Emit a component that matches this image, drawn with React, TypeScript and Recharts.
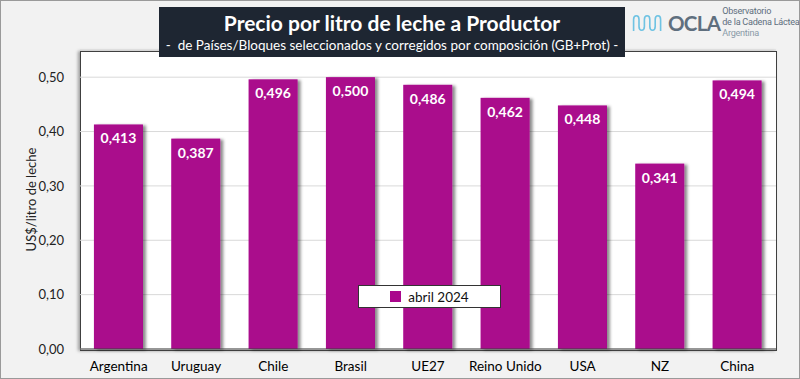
import React from 'react'
import {
  BarChart,
  Bar,
  XAxis,
  YAxis,
  CartesianGrid,
  LabelList,
} from 'recharts'

const paises = ['Argentina', 'Uruguay', 'Chile', 'Brasil', 'UE27', 'Reino Unido', 'USA', 'NZ', 'China']
const precios = [0.413, 0.387, 0.496, 0.5, 0.486, 0.462, 0.448, 0.341, 0.494]
const yTicks = [0, 0.1, 0.2, 0.3, 0.4, 0.5]
const serieNombre = 'abril 2024'

const BAR_COLOR = '#AA078C'
const FONT = 'Lato, "Open Sans", sans-serif'

const data = paises.map((p, i) => ({ pais: p, precio: precios[i] }))

const fmt = (v: number, d: number) => v.toFixed(d).replace('.', ',')

const ShadowBar = (props: any) => {
  const { x, y, width, height } = props
  if (!height || height <= 0) return null
  return (
    <rect
      x={x}
      y={y}
      width={width}
      height={height}
      fill={BAR_COLOR}
      filter="url(#barShadow)"
    />
  )
}

// legend drawn as a plain box over the plot (recharts Legend would shrink the plot)
const LegendBox = () => (
  <div
    style={{
      position: 'absolute',
      left: 357,
      top: 284,
      width: 143,
      height: 23,
      background: '#fff',
      border: '1px solid #333',
      display: 'flex',
      alignItems: 'center',
      justifyContent: 'center',
      fontFamily: FONT,
      fontSize: 13.5,
      color: '#111',
      boxSizing: 'border-box',
    }}
  >
    <span style={{ width: 11, height: 11, background: BAR_COLOR, marginRight: 7, display: 'inline-block' }} />
    {serieNombre}
  </div>
)

const Logo = () => (
  <div style={{ position: 'absolute', left: 631, top: 5, display: 'flex', alignItems: 'center', fontFamily: FONT, whiteSpace: 'nowrap' }}>
    <svg width={32} height={18} viewBox="0 0 34 20">
      <path
        d="M1 19 V6 Q1 2 4 2 Q7 2 7 6 V14 Q7 18 10 18 Q13 18 13 14 V6 Q13 2 16 2 Q19 2 19 6 V14 Q19 18 22 18 Q25 18 25 14 V6 Q25 2 28 2 Q31 2 31 6 V19"
        fill="none"
        stroke="#6fc3e3"
        strokeWidth={1.8}
      />
    </svg>
    <span style={{ fontSize: 20.5, fontWeight: 700, color: '#5f6f7e', marginLeft: 4, letterSpacing: -0.7 }}>OCLA</span>
    <div style={{ marginLeft: 2, fontSize: 9.1, lineHeight: '11px', color: '#5f6f7e', fontFamily: 'Roboto, sans-serif', letterSpacing: -0.25 }}>
      <div>Observatorio</div>
      <div>de la Cadena Láctea</div>
      <div style={{ color: '#8a9aa8' }}>Argentina</div>
    </div>
  </div>
)

export default function App() {
  return (
    <div
      style={{
        position: 'absolute',
        left: 0,
        top: 0,
        width: 800,
        height: 379,
        background: '#f2f2f2',
        border: '1px solid #9a9a9a',
        boxSizing: 'border-box',
        overflow: 'hidden',
      }}
    >
      {/* plot area background */}
      <div
        style={{
          position: 'absolute',
          left: 79,
          top: 50,
          width: 697,
          height: 300,
          background: '#fff',
          border: '1px solid #404040',
          boxShadow: '-2px 0 3px rgba(0,0,0,0.35)',
          boxSizing: 'border-box',
        }}
      />
      <div style={{ position: 'absolute', left: -1, top: -1 }}>
        <BarChart
          width={800}
          height={379}
          data={data}
          margin={{ top: 50, right: 24, bottom: 0, left: 20 }}
          barCategoryGap="18%"
        >
          <defs>
            <filter id="barShadow" x="-20%" y="-10%" width="140%" height="120%">
              <feDropShadow dx={3} dy={1} stdDeviation={1.5} floodColor="#000" floodOpacity={0.45} />
            </filter>
          </defs>
          <CartesianGrid vertical={false} stroke="#d9d9d9" />
          <XAxis
            dataKey="pais"
            height={30}
            tickLine={false}
            axisLine={{ stroke: '#404040' }}
            tick={{ fill: '#000', fontSize: 13.5, fontFamily: FONT }}
            interval={0}
            tickMargin={6}
          />
          <YAxis
            width={60}
            domain={[0, 0.55]}
            ticks={yTicks}
            tickLine={false}
            axisLine={false}
            tickFormatter={(v: number) => fmt(v, 2)}
            tick={{ fill: '#222', fontSize: 13, fontFamily: FONT }}
            tickMargin={10}
            label={{
              value: 'US$/litro de leche',
              angle: -90,
              position: 'insideLeft',
              offset: 11,
              style: { textAnchor: 'middle', fill: '#222', fontSize: 13, fontFamily: FONT },
            }}
          />
          <Bar dataKey="precio" name={serieNombre} fill={BAR_COLOR} shape={ShadowBar} isAnimationActive={false}>
            <LabelList
              dataKey="precio"
              position="insideTop"
              offset={9}
              formatter={(v: any) => fmt(Number(v), 3)}
              style={{ fill: '#fff', fontWeight: 700, fontSize: 14, fontFamily: FONT }}
            />
          </Bar>
        </BarChart>
      </div>
      <LegendBox />
      {/* title box */}
      <div
        style={{
          position: 'absolute',
          left: 158,
          top: 6,
          width: 466,
          height: 50,
          background: '#1e2632',
          color: '#fff',
          textAlign: 'center',
          fontFamily: FONT,
          boxSizing: 'border-box',
        }}
      >
        <div style={{ fontSize: 21, fontWeight: 700, marginTop: 4, lineHeight: '24px' }}>
          Precio por litro de leche a Productor
        </div>
        <div style={{ fontSize: 13.5, lineHeight: '18px', marginTop: 1, whiteSpace: 'nowrap' }}>
          -&nbsp; de Países/Bloques seleccionados y corregidos por composición (GB+Prot) -
        </div>
      </div>
      <Logo />
    </div>
  )
}
